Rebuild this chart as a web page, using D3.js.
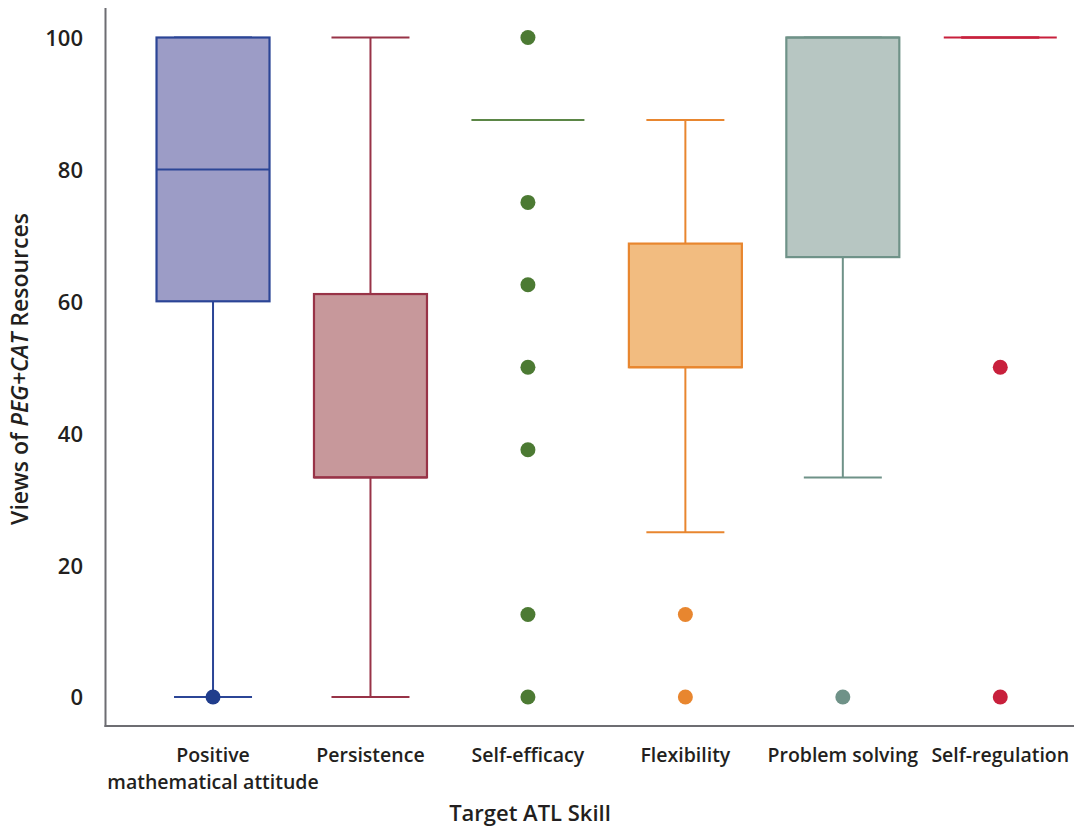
<!DOCTYPE html>
<html>
<head>
<meta charset="utf-8">
<script src="https://cdn.jsdelivr.net/npm/d3@7"></script>
<style>
  html, body { margin: 0; padding: 0; background: #fff; }
  svg text { font-family: "Open Sans", sans-serif; font-weight: 600; fill: #231f20; }
</style>
</head>
<body>
<svg id="chart" width="1074" height="829"></svg>
<script>
const categories = ["Positive mathematical attitude", "Persistence", "Self-efficacy", "Flexibility", "Problem solving", "Self-regulation"];
const labelLines = [["Positive", "mathematical attitude"], ["Persistence"], ["Self-efficacy"], ["Flexibility"], ["Problem solving"], ["Self-regulation"]];
const q1 = [60, 33.3, 87.5, 50, 66.7, 100];
const median = [80, 33.3, 87.5, 50, 100, 100];
const q3 = [100, 61.1, 87.5, 68.75, 100, 100];
const whiskerLow = [0, 0, 87.5, 25, 33.3, 100];
const whiskerHigh = [100, 100, 87.5, 87.5, 100, 100];
const outliers = [[0], [], [100, 75, 62.5, 50, 37.5, 12.5, 0], [12.5, 0], [0], [50, 0]];
const fills = ["#9c9cc6", "#c7989b", "none", "#f2bc80", "#b7c6c2", "none"];
const strokes = ["#2b4596", "#983347", "#5b8646", "#e8862f", "#6f9288", "#c8203c"];
const dotColors = ["#203d8c", "#983347", "#4c7a33", "#e8862f", "#6f9288", "#c8203c"];
const yTicks = [0, 20, 40, 60, 80, 100];

const svg = d3.select("#chart");
const y = d3.scaleLinear().domain([0, 100]).range([697, 37.5]);
const x = d3.scaleBand().domain(categories).range([134.3, 1079]).padding(0);
const boxW = 113, capW = 78;
const yAxisX = 105.5, xAxisY = 726, topY = 8;

// axis lines
svg.append("line").attr("x1", yAxisX).attr("x2", yAxisX).attr("y1", topY).attr("y2", xAxisY + 1)
  .attr("stroke", "#6d6d72").attr("stroke-width", 2);
svg.append("line").attr("x1", yAxisX - 1).attr("x2", 1074).attr("y1", xAxisY).attr("y2", xAxisY)
  .attr("stroke", "#6d6d72").attr("stroke-width", 2);

// y axis ticks
const yAxis = d3.axisLeft(y).tickValues(yTicks).tickSize(0).tickPadding(0);
const yg = svg.append("g").attr("transform", `translate(83,0)`).call(yAxis);
yg.select(".domain").remove();
yg.selectAll("text").attr("font-size", 22).attr("dy", "0.36em")
  .style("font-family", '"Open Sans", sans-serif').style("font-weight", 600).attr("fill", "#231f20");

// y axis title
const yt = svg.append("text").attr("transform", "translate(28,369) rotate(-90)")
  .attr("text-anchor", "middle").attr("font-size", 23);
yt.append("tspan").text("Views of ");
yt.append("tspan").attr("font-style", "italic").text("PEG+CAT");
yt.append("tspan").text(" Resources");

// x labels
categories.forEach((c, i) => {
  const cx = x(c) + x.bandwidth() / 2;
  const t = svg.append("text").attr("x", cx).attr("y", 762).attr("text-anchor", "middle").attr("font-size", 19.5);
  labelLines[i].forEach((ln, j) => {
    t.append("tspan").attr("x", cx).attr("dy", j === 0 ? 0 : 27).text(ln);
  });
});
svg.append("text").attr("x", 530).attr("y", 821).attr("text-anchor", "middle").attr("font-size", 22).text("Target ATL Skill");

// boxes
categories.forEach((c, i) => {
  const cx = x(c) + x.bandwidth() / 2;
  const g = svg.append("g");
  const col = strokes[i];
  if (whiskerHigh[i] > q3[i]) {
    g.append("line").attr("x1", cx).attr("x2", cx).attr("y1", y(q3[i])).attr("y2", y(whiskerHigh[i])).attr("stroke", col).attr("stroke-width", 2);
  }
  if (whiskerLow[i] < q1[i]) {
    g.append("line").attr("x1", cx).attr("x2", cx).attr("y1", y(q1[i])).attr("y2", y(whiskerLow[i])).attr("stroke", col).attr("stroke-width", 2);
  }
  [whiskerLow[i], whiskerHigh[i]].forEach(v => {
    g.append("line").attr("x1", cx - capW / 2).attr("x2", cx + capW / 2).attr("y1", y(v)).attr("y2", y(v)).attr("stroke", col).attr("stroke-width", 2);
  });
  if (q3[i] > q1[i]) {
    g.append("rect").attr("x", cx - boxW / 2).attr("width", boxW)
      .attr("y", y(q3[i])).attr("height", y(q1[i]) - y(q3[i]))
      .attr("fill", fills[i]).attr("stroke", col).attr("stroke-width", 2.2);
  }
  g.append("line").attr("x1", cx - boxW / 2).attr("x2", cx + boxW / 2).attr("y1", y(median[i])).attr("y2", y(median[i]))
    .attr("stroke", col).attr("stroke-width", 2);
  outliers[i].forEach(v => {
    g.append("circle").attr("cx", cx).attr("cy", y(v)).attr("r", 7.5).attr("fill", dotColors[i]);
  });
});
</script>
</body>
</html>
